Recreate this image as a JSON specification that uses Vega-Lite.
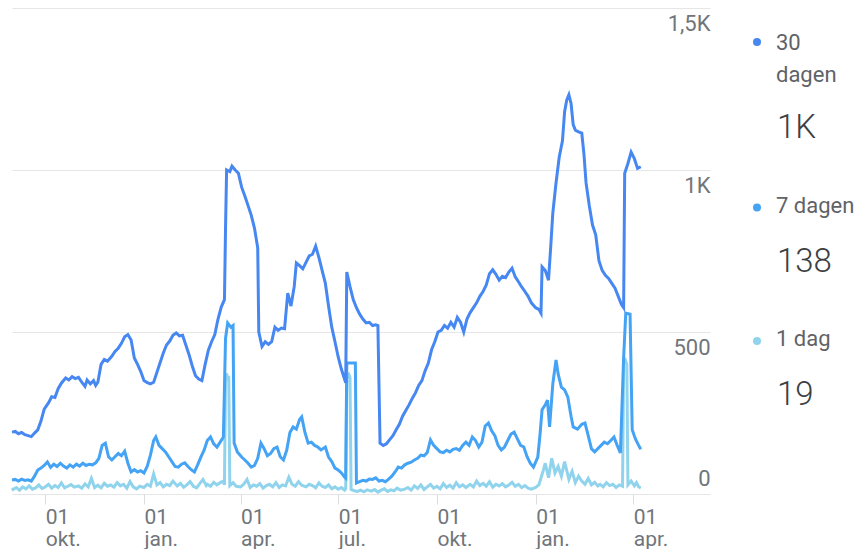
{
  "$schema": "https://vega.github.io/schema/vega-lite/v6.json",
  "padding": {"left": 6, "top": 8, "right": 0, "bottom": 0},
  "bounds": "flush",
  "spacing": 39,
  "config": {"view": {"stroke": null}, "font": "Roboto"},
  "datasets": {
    "d30": [
      {"d":"2022-08-31","v":191},{"d":"2022-09-03","v":193},{"d":"2022-09-06","v":186},{"d":"2022-09-09","v":190},{"d":"2022-09-12","v":183},{"d":"2022-09-15","v":180},{"d":"2022-09-18","v":177},{"d":"2022-09-21","v":188},{"d":"2022-09-24","v":198},{"d":"2022-09-27","v":225},{"d":"2022-09-30","v":262},
      {"d":"2022-10-04","v":281},{"d":"2022-10-07","v":300},{"d":"2022-10-10","v":298},{"d":"2022-10-13","v":325},{"d":"2022-10-16","v":342},{"d":"2022-10-20","v":358},{"d":"2022-10-23","v":352},{"d":"2022-10-26","v":362},{"d":"2022-10-29","v":356},
      {"d":"2022-11-01","v":360},{"d":"2022-11-04","v":345},{"d":"2022-11-07","v":332},{"d":"2022-11-09","v":352},{"d":"2022-11-12","v":340},{"d":"2022-11-15","v":350},{"d":"2022-11-17","v":335},{"d":"2022-11-19","v":345},{"d":"2022-11-22","v":400},{"d":"2022-11-25","v":415},{"d":"2022-11-28","v":410},
      {"d":"2022-12-02","v":425},{"d":"2022-12-05","v":440},{"d":"2022-12-08","v":450},{"d":"2022-12-11","v":465},{"d":"2022-12-14","v":485},{"d":"2022-12-17","v":492},{"d":"2022-12-20","v":475},{"d":"2022-12-23","v":420},{"d":"2022-12-26","v":400},{"d":"2022-12-29","v":378},
      {"d":"2023-01-01","v":350},{"d":"2023-01-04","v":344},{"d":"2023-01-07","v":340},{"d":"2023-01-10","v":345},{"d":"2023-01-13","v":375},{"d":"2023-01-16","v":405},{"d":"2023-01-19","v":435},{"d":"2023-01-22","v":460},{"d":"2023-01-25","v":472},{"d":"2023-01-28","v":490},{"d":"2023-01-31","v":497},
      {"d":"2023-02-03","v":488},{"d":"2023-02-06","v":490},{"d":"2023-02-09","v":460},{"d":"2023-02-12","v":430},{"d":"2023-02-15","v":395},{"d":"2023-02-18","v":365},{"d":"2023-02-21","v":355},{"d":"2023-02-24","v":350},{"d":"2023-02-27","v":400},
      {"d":"2023-03-02","v":444},{"d":"2023-03-05","v":470},{"d":"2023-03-08","v":492},{"d":"2023-03-11","v":540},{"d":"2023-03-14","v":577},{"d":"2023-03-17","v":600},{"d":"2023-03-18","v":820},{"d":"2023-03-19","v":1000},{"d":"2023-03-22","v":995},{"d":"2023-03-24","v":1012},{"d":"2023-03-27","v":1000},{"d":"2023-03-30","v":990},
      {"d":"2023-04-02","v":947},{"d":"2023-04-05","v":920},{"d":"2023-04-08","v":890},{"d":"2023-04-11","v":860},{"d":"2023-04-14","v":820},{"d":"2023-04-17","v":760},{"d":"2023-04-18","v":500},{"d":"2023-04-21","v":455},{"d":"2023-04-24","v":470},{"d":"2023-04-27","v":462},{"d":"2023-04-30","v":470},
      {"d":"2023-05-03","v":515},{"d":"2023-05-06","v":505},{"d":"2023-05-09","v":512},{"d":"2023-05-12","v":510},{"d":"2023-05-15","v":620},{"d":"2023-05-18","v":580},{"d":"2023-05-21","v":640},{"d":"2023-05-23","v":713},{"d":"2023-05-26","v":705},{"d":"2023-05-29","v":695},
      {"d":"2023-06-01","v":715},{"d":"2023-06-04","v":735},{"d":"2023-06-07","v":740},{"d":"2023-06-10","v":765},{"d":"2023-06-13","v":730},{"d":"2023-06-16","v":690},{"d":"2023-06-19","v":651},{"d":"2023-06-22","v":580},{"d":"2023-06-25","v":515},{"d":"2023-06-28","v":470},
      {"d":"2023-07-01","v":423},{"d":"2023-07-04","v":385},{"d":"2023-07-08","v":343},{"d":"2023-07-09","v":685},{"d":"2023-07-12","v":640},{"d":"2023-07-15","v":600},{"d":"2023-07-18","v":575},{"d":"2023-07-21","v":555},{"d":"2023-07-24","v":540},{"d":"2023-07-27","v":528},{"d":"2023-07-30","v":530},
      {"d":"2023-08-02","v":520},{"d":"2023-08-05","v":522},{"d":"2023-08-07","v":520},{"d":"2023-08-09","v":157},{"d":"2023-08-12","v":150},{"d":"2023-08-15","v":155},{"d":"2023-08-18","v":168},{"d":"2023-08-21","v":180},{"d":"2023-08-24","v":198},{"d":"2023-08-27","v":215},{"d":"2023-08-30","v":240},
      {"d":"2023-09-02","v":258},{"d":"2023-09-05","v":275},{"d":"2023-09-08","v":295},{"d":"2023-09-11","v":312},{"d":"2023-09-14","v":335},{"d":"2023-09-17","v":350},{"d":"2023-09-20","v":380},{"d":"2023-09-23","v":404},{"d":"2023-09-26","v":445},{"d":"2023-09-29","v":470},
      {"d":"2023-10-02","v":500},{"d":"2023-10-05","v":505},{"d":"2023-10-08","v":520},{"d":"2023-10-11","v":512},{"d":"2023-10-14","v":530},{"d":"2023-10-17","v":515},{"d":"2023-10-20","v":545},{"d":"2023-10-23","v":530},{"d":"2023-10-26","v":500},{"d":"2023-10-29","v":540},
      {"d":"2023-11-01","v":560},{"d":"2023-11-04","v":575},{"d":"2023-11-07","v":590},{"d":"2023-11-10","v":610},{"d":"2023-11-13","v":625},{"d":"2023-11-16","v":645},{"d":"2023-11-19","v":680},{"d":"2023-11-22","v":692},{"d":"2023-11-25","v":678},{"d":"2023-11-28","v":660},
      {"d":"2023-12-01","v":672},{"d":"2023-12-04","v":668},{"d":"2023-12-07","v":685},{"d":"2023-12-10","v":697},{"d":"2023-12-13","v":670},{"d":"2023-12-16","v":655},{"d":"2023-12-19","v":639},{"d":"2023-12-22","v":625},{"d":"2023-12-25","v":610},{"d":"2023-12-28","v":590},
      {"d":"2024-01-01","v":575},{"d":"2024-01-04","v":570},{"d":"2024-01-06","v":558},{"d":"2024-01-07","v":701},{"d":"2024-01-10","v":690},{"d":"2024-01-13","v":660},{"d":"2024-01-15","v":760},{"d":"2024-01-17","v":867},{"d":"2024-01-20","v":960},{"d":"2024-01-23","v":1040},{"d":"2024-01-26","v":1090},{"d":"2024-01-28","v":1180},{"d":"2024-01-30","v":1216},
      {"d":"2024-02-01","v":1232},{"d":"2024-02-03","v":1206},{"d":"2024-02-05","v":1140},{"d":"2024-02-07","v":1123},{"d":"2024-02-10","v":1118},{"d":"2024-02-13","v":1114},{"d":"2024-02-15","v":1050},{"d":"2024-02-17","v":960},{"d":"2024-02-20","v":890},{"d":"2024-02-23","v":830},{"d":"2024-02-26","v":800},{"d":"2024-02-29","v":720},
      {"d":"2024-03-03","v":690},{"d":"2024-03-06","v":675},{"d":"2024-03-09","v":665},{"d":"2024-03-12","v":650},{"d":"2024-03-15","v":635},{"d":"2024-03-18","v":610},{"d":"2024-03-21","v":585},{"d":"2024-03-23","v":575},{"d":"2024-03-24","v":990},{"d":"2024-03-27","v":1020},{"d":"2024-03-30","v":1055},
      {"d":"2024-04-02","v":1035},{"d":"2024-04-05","v":1005},{"d":"2024-04-08","v":1010}
    ],
    "d7": [
      {"d":"2022-08-31","v":43},{"d":"2022-09-03","v":45},{"d":"2022-09-06","v":40},{"d":"2022-09-09","v":46},{"d":"2022-09-12","v":42},{"d":"2022-09-15","v":44},{"d":"2022-09-18","v":40},{"d":"2022-09-21","v":55},{"d":"2022-09-24","v":74},{"d":"2022-09-27","v":80},{"d":"2022-09-30","v":88},
      {"d":"2022-10-03","v":99},{"d":"2022-10-06","v":82},{"d":"2022-10-09","v":92},{"d":"2022-10-12","v":85},{"d":"2022-10-15","v":95},{"d":"2022-10-18","v":86},{"d":"2022-10-21","v":80},{"d":"2022-10-24","v":90},{"d":"2022-10-27","v":83},{"d":"2022-10-30","v":92},
      {"d":"2022-11-02","v":86},{"d":"2022-11-05","v":95},{"d":"2022-11-08","v":88},{"d":"2022-11-11","v":92},{"d":"2022-11-14","v":90},{"d":"2022-11-17","v":96},{"d":"2022-11-20","v":110},{"d":"2022-11-23","v":150},{"d":"2022-11-26","v":157},{"d":"2022-11-29","v":115},
      {"d":"2022-12-02","v":105},{"d":"2022-12-05","v":115},{"d":"2022-12-08","v":125},{"d":"2022-12-11","v":118},{"d":"2022-12-14","v":132},{"d":"2022-12-17","v":95},{"d":"2022-12-20","v":68},{"d":"2022-12-23","v":75},{"d":"2022-12-26","v":68},{"d":"2022-12-29","v":72},
      {"d":"2023-01-01","v":65},{"d":"2023-01-04","v":85},{"d":"2023-01-07","v":120},{"d":"2023-01-10","v":165},{"d":"2023-01-12","v":176},{"d":"2023-01-15","v":150},{"d":"2023-01-18","v":140},{"d":"2023-01-21","v":130},{"d":"2023-01-24","v":115},{"d":"2023-01-27","v":100},{"d":"2023-01-30","v":85},
      {"d":"2023-02-02","v":83},{"d":"2023-02-05","v":92},{"d":"2023-02-08","v":96},{"d":"2023-02-11","v":85},{"d":"2023-02-14","v":75},{"d":"2023-02-17","v":68},{"d":"2023-02-20","v":90},{"d":"2023-02-23","v":114},{"d":"2023-02-26","v":135},
      {"d":"2023-03-01","v":165},{"d":"2023-03-04","v":176},{"d":"2023-03-07","v":155},{"d":"2023-03-10","v":145},{"d":"2023-03-13","v":160},{"d":"2023-03-16","v":176},{"d":"2023-03-18","v":480},{"d":"2023-03-20","v":528},{"d":"2023-03-23","v":515},{"d":"2023-03-25","v":520},{"d":"2023-03-26","v":157},{"d":"2023-03-29","v":130},
      {"d":"2023-04-02","v":114},{"d":"2023-04-05","v":105},{"d":"2023-04-08","v":95},{"d":"2023-04-11","v":83},{"d":"2023-04-14","v":88},{"d":"2023-04-17","v":110},{"d":"2023-04-20","v":157},{"d":"2023-04-23","v":140},{"d":"2023-04-26","v":118},{"d":"2023-04-29","v":125},
      {"d":"2023-05-02","v":140},{"d":"2023-05-05","v":145},{"d":"2023-05-08","v":115},{"d":"2023-05-11","v":105},{"d":"2023-05-14","v":135},{"d":"2023-05-17","v":190},{"d":"2023-05-20","v":207},{"d":"2023-05-23","v":200},{"d":"2023-05-26","v":230},{"d":"2023-05-28","v":238},{"d":"2023-05-31","v":190},
      {"d":"2023-06-03","v":157},{"d":"2023-06-06","v":160},{"d":"2023-06-09","v":150},{"d":"2023-06-12","v":145},{"d":"2023-06-15","v":136},{"d":"2023-06-19","v":145},{"d":"2023-06-22","v":114},{"d":"2023-06-25","v":100},{"d":"2023-06-28","v":80},
      {"d":"2023-07-01","v":74},{"d":"2023-07-04","v":65},{"d":"2023-07-07","v":52},{"d":"2023-07-08","v":49},{"d":"2023-07-09","v":404},{"d":"2023-07-17","v":404},{"d":"2023-07-18","v":34},{"d":"2023-07-21","v":38},{"d":"2023-07-24","v":42},{"d":"2023-07-27","v":40},{"d":"2023-07-30","v":46},
      {"d":"2023-08-02","v":45},{"d":"2023-08-05","v":50},{"d":"2023-08-08","v":40},{"d":"2023-08-11","v":42},{"d":"2023-08-14","v":38},{"d":"2023-08-17","v":46},{"d":"2023-08-20","v":55},{"d":"2023-08-23","v":68},{"d":"2023-08-26","v":83},{"d":"2023-08-29","v":80},
      {"d":"2023-09-01","v":90},{"d":"2023-09-04","v":95},{"d":"2023-09-07","v":98},{"d":"2023-09-10","v":105},{"d":"2023-09-13","v":110},{"d":"2023-09-16","v":120},{"d":"2023-09-19","v":118},{"d":"2023-09-22","v":128},{"d":"2023-09-25","v":167},{"d":"2023-09-28","v":150},
      {"d":"2023-10-01","v":140},{"d":"2023-10-04","v":130},{"d":"2023-10-07","v":128},{"d":"2023-10-10","v":135},{"d":"2023-10-13","v":130},{"d":"2023-10-16","v":138},{"d":"2023-10-19","v":140},{"d":"2023-10-22","v":135},{"d":"2023-10-25","v":150},{"d":"2023-10-28","v":160},{"d":"2023-10-31","v":150},
      {"d":"2023-11-03","v":176},{"d":"2023-11-06","v":165},{"d":"2023-11-09","v":145},{"d":"2023-11-12","v":160},{"d":"2023-11-15","v":210},{"d":"2023-11-18","v":219},{"d":"2023-11-21","v":195},{"d":"2023-11-24","v":180},{"d":"2023-11-27","v":150},{"d":"2023-11-30","v":136},
      {"d":"2023-12-03","v":145},{"d":"2023-12-06","v":165},{"d":"2023-12-09","v":185},{"d":"2023-12-12","v":191},{"d":"2023-12-15","v":170},{"d":"2023-12-18","v":150},{"d":"2023-12-21","v":145},{"d":"2023-12-24","v":115},{"d":"2023-12-27","v":95},{"d":"2023-12-30","v":83},
      {"d":"2024-01-03","v":114},{"d":"2024-01-05","v":180},{"d":"2024-01-07","v":260},{"d":"2024-01-10","v":275},{"d":"2024-01-12","v":290},{"d":"2024-01-14","v":207},{"d":"2024-01-17","v":340},{"d":"2024-01-20","v":414},{"d":"2024-01-22","v":370},{"d":"2024-01-25","v":330},{"d":"2024-01-28","v":321},{"d":"2024-01-31","v":299},
      {"d":"2024-02-03","v":240},{"d":"2024-02-05","v":207},{"d":"2024-02-09","v":200},{"d":"2024-02-13","v":215},{"d":"2024-02-16","v":219},{"d":"2024-02-19","v":180},{"d":"2024-02-22","v":140},{"d":"2024-02-25","v":130},{"d":"2024-02-28","v":140},
      {"d":"2024-03-02","v":150},{"d":"2024-03-05","v":160},{"d":"2024-03-08","v":155},{"d":"2024-03-11","v":165},{"d":"2024-03-14","v":176},{"d":"2024-03-17","v":150},{"d":"2024-03-20","v":127},{"d":"2024-03-23","v":420},{"d":"2024-03-25","v":558},{"d":"2024-03-29","v":555},{"d":"2024-03-31","v":198},
      {"d":"2024-04-03","v":170},{"d":"2024-04-06","v":150},{"d":"2024-04-08","v":138}
    ],
    "d1": [
      {"d":"2022-08-31","v":18},
      {"d":"2022-09-01","v":14},{"d":"2022-09-04","v":20},{"d":"2022-09-07","v":12},{"d":"2022-09-10","v":22},{"d":"2022-09-13","v":16},{"d":"2022-09-16","v":25},{"d":"2022-09-19","v":15},{"d":"2022-09-22","v":19},{"d":"2022-09-25","v":28},{"d":"2022-09-28","v":17},
      {"d":"2022-10-01","v":22},{"d":"2022-10-04","v":30},{"d":"2022-10-07","v":18},{"d":"2022-10-10","v":26},{"d":"2022-10-13","v":20},{"d":"2022-10-16","v":34},{"d":"2022-10-19","v":19},{"d":"2022-10-22","v":24},{"d":"2022-10-25","v":29},{"d":"2022-10-28","v":21},
      {"d":"2022-11-01","v":25},{"d":"2022-11-04","v":18},{"d":"2022-11-07","v":31},{"d":"2022-11-10","v":22},{"d":"2022-11-13","v":48},{"d":"2022-11-16","v":20},{"d":"2022-11-19","v":27},{"d":"2022-11-22","v":19},{"d":"2022-11-25","v":33},{"d":"2022-11-28","v":24},
      {"d":"2022-12-01","v":28},{"d":"2022-12-04","v":21},{"d":"2022-12-07","v":35},{"d":"2022-12-10","v":25},{"d":"2022-12-13","v":30},{"d":"2022-12-16","v":18},{"d":"2022-12-19","v":38},{"d":"2022-12-22","v":22},{"d":"2022-12-25","v":16},{"d":"2022-12-28","v":24},
      {"d":"2023-01-01","v":20},{"d":"2023-01-04","v":30},{"d":"2023-01-07","v":24},{"d":"2023-01-10","v":62},{"d":"2023-01-13","v":28},{"d":"2023-01-16","v":35},{"d":"2023-01-19","v":22},{"d":"2023-01-22","v":30},{"d":"2023-01-25","v":26},{"d":"2023-01-28","v":40},
      {"d":"2023-02-01","v":25},{"d":"2023-02-04","v":33},{"d":"2023-02-07","v":21},{"d":"2023-02-10","v":28},{"d":"2023-02-13","v":38},{"d":"2023-02-16","v":24},{"d":"2023-02-19","v":19},{"d":"2023-02-22","v":32},{"d":"2023-02-25","v":45},{"d":"2023-02-28","v":26},
      {"d":"2023-03-01","v":30},{"d":"2023-03-04","v":24},{"d":"2023-03-07","v":36},{"d":"2023-03-10","v":28},{"d":"2023-03-13","v":35},{"d":"2023-03-16","v":40},{"d":"2023-03-17","v":28},{"d":"2023-03-18","v":360},{"d":"2023-03-19","v":372},{"d":"2023-03-20","v":350},{"d":"2023-03-21","v":365},{"d":"2023-03-22","v":26},{"d":"2023-03-25","v":35},{"d":"2023-03-28","v":24},
      {"d":"2023-04-01","v":22},{"d":"2023-04-04","v":30},{"d":"2023-04-07","v":45},{"d":"2023-04-10","v":20},{"d":"2023-04-13","v":28},{"d":"2023-04-16","v":24},{"d":"2023-04-19","v":32},{"d":"2023-04-22","v":18},{"d":"2023-04-25","v":26},{"d":"2023-04-28","v":30},
      {"d":"2023-05-01","v":22},{"d":"2023-05-04","v":35},{"d":"2023-05-07","v":20},{"d":"2023-05-10","v":28},{"d":"2023-05-13","v":25},{"d":"2023-05-16","v":52},{"d":"2023-05-19","v":30},{"d":"2023-05-22","v":24},{"d":"2023-05-25","v":38},{"d":"2023-05-28","v":27},
      {"d":"2023-06-01","v":22},{"d":"2023-06-04","v":30},{"d":"2023-06-07","v":26},{"d":"2023-06-10","v":19},{"d":"2023-06-13","v":34},{"d":"2023-06-16","v":24},{"d":"2023-06-19","v":20},{"d":"2023-06-22","v":28},{"d":"2023-06-25","v":16},{"d":"2023-06-28","v":22},
      {"d":"2023-07-01","v":15},{"d":"2023-07-04","v":20},{"d":"2023-07-07","v":12},{"d":"2023-07-08","v":16},{"d":"2023-07-09","v":370},{"d":"2023-07-10","v":362},{"d":"2023-07-11","v":368},{"d":"2023-07-12","v":360},{"d":"2023-07-13","v":14},{"d":"2023-07-16","v":10},{"d":"2023-07-19","v":8},{"d":"2023-07-22","v":12},{"d":"2023-07-25","v":7},{"d":"2023-07-28","v":13},
      {"d":"2023-08-01","v":9},{"d":"2023-08-04","v":14},{"d":"2023-08-07","v":6},{"d":"2023-08-10","v":12},{"d":"2023-08-13","v":16},{"d":"2023-08-16","v":8},{"d":"2023-08-19","v":13},{"d":"2023-08-22","v":10},{"d":"2023-08-25","v":18},{"d":"2023-08-28","v":12},
      {"d":"2023-09-01","v":15},{"d":"2023-09-04","v":20},{"d":"2023-09-07","v":12},{"d":"2023-09-10","v":25},{"d":"2023-09-13","v":17},{"d":"2023-09-16","v":28},{"d":"2023-09-19","v":14},{"d":"2023-09-22","v":22},{"d":"2023-09-25","v":30},{"d":"2023-09-28","v":18},
      {"d":"2023-10-01","v":24},{"d":"2023-10-04","v":16},{"d":"2023-10-07","v":32},{"d":"2023-10-10","v":20},{"d":"2023-10-13","v":27},{"d":"2023-10-16","v":18},{"d":"2023-10-19","v":35},{"d":"2023-10-22","v":22},{"d":"2023-10-25","v":28},{"d":"2023-10-28","v":20},
      {"d":"2023-11-01","v":30},{"d":"2023-11-04","v":22},{"d":"2023-11-07","v":40},{"d":"2023-11-10","v":26},{"d":"2023-11-13","v":33},{"d":"2023-11-16","v":24},{"d":"2023-11-19","v":38},{"d":"2023-11-22","v":21},{"d":"2023-11-25","v":30},{"d":"2023-11-28","v":25},
      {"d":"2023-12-01","v":32},{"d":"2023-12-04","v":22},{"d":"2023-12-07","v":28},{"d":"2023-12-10","v":36},{"d":"2023-12-13","v":24},{"d":"2023-12-16","v":30},{"d":"2023-12-19","v":20},{"d":"2023-12-22","v":26},{"d":"2023-12-25","v":18},{"d":"2023-12-28","v":15},
      {"d":"2024-01-01","v":20},{"d":"2024-01-04","v":28},{"d":"2024-01-07","v":60},{"d":"2024-01-10","v":95},{"d":"2024-01-13","v":50},{"d":"2024-01-16","v":110},{"d":"2024-01-19","v":65},{"d":"2024-01-22","v":85},{"d":"2024-01-25","v":55},{"d":"2024-01-28","v":100},
      {"d":"2024-02-01","v":45},{"d":"2024-02-04","v":70},{"d":"2024-02-07","v":35},{"d":"2024-02-10","v":55},{"d":"2024-02-13","v":40},{"d":"2024-02-16","v":30},{"d":"2024-02-19","v":48},{"d":"2024-02-22","v":28},{"d":"2024-02-25","v":36},{"d":"2024-02-28","v":25},
      {"d":"2024-03-01","v":30},{"d":"2024-03-04","v":22},{"d":"2024-03-07","v":35},{"d":"2024-03-10","v":26},{"d":"2024-03-13","v":30},{"d":"2024-03-16","v":20},{"d":"2024-03-19","v":28},{"d":"2024-03-22","v":24},{"d":"2024-03-23","v":400},{"d":"2024-03-24","v":420},{"d":"2024-03-25","v":410},{"d":"2024-03-26","v":400},{"d":"2024-03-27","v":28},{"d":"2024-03-30","v":40},
      {"d":"2024-04-02","v":25},{"d":"2024-04-04","v":35},{"d":"2024-04-06","v":22},{"d":"2024-04-08","v":19}
    ],
    "legenda": [
      {"naam":"30 dagen","totaal":"1K"},
      {"naam":"7 dagen","totaal":"138"},
      {"naam":"1 dag","totaal":"19"}
    ]
  },
  "hconcat": [
    {
      "width": 698,
      "height": 486,
      "encoding": {
        "x": {
          "field": "d", "type": "temporal",
          "scale": {"domain": [{"year":2022,"month":8,"date":31}, {"year":2024,"month":6,"date":11,"hours":12}], "nice": false},
          "axis": {
            "title": null,
            "values": [{"year":2022,"month":10,"date":1},{"year":2023,"month":1,"date":1},{"year":2023,"month":4,"date":1},{"year":2023,"month":7,"date":1},{"year":2023,"month":10,"date":1},{"year":2024,"month":1,"date":1},{"year":2024,"month":4,"date":1}],
            "labelExpr": "['01', ['jan.','feb.','mrt.','apr.','mei','jun.','jul.','aug.','sep.','okt.','nov.','dec.'][month(datum.value)]]",
            "grid": false, "domain": false,
            "ticks": true, "tickSize": 10, "tickColor": "#dadce0",
            "labelAlign": "left", "labelBaseline": "top",
            "labelFont": "Roboto", "labelFontSize": 21, "labelLineHeight": 22,
            "labelPadding": 2, "labelColor": "#70757a",
            "labelOverlap": false, "labelFlush": false, "labelBound": false
          }
        },
        "y": {
          "field": "v", "type": "quantitative",
          "scale": {"domain": [0, 1500], "nice": false},
          "axis": {
            "title": null, "orient": "right",
            "values": [0, 500, 1000, 1500],
            "labelExpr": "datum.value == 1500 ? '1,5K' : datum.value == 1000 ? '1K' : datum.label",
            "grid": true, "gridColor": "#e6e6e6", "gridWidth": 1,
            "domain": false, "ticks": false,
            "labelAlign": "right", "labelPadding": 0, "labelBaseline": "alphabetic",
            "labelOffset": {"condition": {"test": "datum.value === 0", "value": -9}, "value": 22},
            "labelFont": "Roboto", "labelFontSize": 22, "labelColor": "#70757a"
          }
        }
      },
      "layer": [
        {"data": {"name": "d1"}, "mark": {"type": "line", "color": "#90d3ec", "strokeWidth": 3}},
        {"data": {"name": "d7"}, "mark": {"type": "line", "color": "#44a3f4", "strokeWidth": 3}},
        {"data": {"name": "d30"}, "mark": {"type": "line", "color": "#4687f2", "strokeWidth": 3}}
      ]
    },
    {
      "width": 115,
      "height": 486,
      "data": {"name": "legenda"},
      "encoding": {
        "y": {"field": "naam", "type": "nominal", "scale": {"type": "point", "padding": 0, "domain": ["30 dagen", "7 dagen", "1 dag"], "range": [130, 397]}, "axis": null}
      },
      "layer": [
        {
          "transform": [{"filter": "datum.naam === '30 dagen'"}],
          "mark": {"type": "circle", "size": 64, "opacity": 1, "yOffset": -96},
          "encoding": {"x": {"value": 8}, "color": {"field": "naam", "type": "nominal", "scale": {"domain": ["30 dagen", "7 dagen", "1 dag"], "range": ["#4687f2", "#44a3f4", "#90d3ec"]}, "legend": null}}
        },
        {
          "transform": [{"filter": "datum.naam !== '30 dagen'"}],
          "mark": {"type": "circle", "size": 64, "opacity": 1, "yOffset": -64},
          "encoding": {"x": {"value": 8}, "color": {"field": "naam", "type": "nominal", "scale": {"domain": ["30 dagen", "7 dagen", "1 dag"], "range": ["#4687f2", "#44a3f4", "#90d3ec"]}, "legend": null}}
        },
        {
          "transform": [{"filter": "datum.naam === '30 dagen'"}],
          "mark": {"type": "text", "align": "left", "baseline": "alphabetic", "dy": -88, "lineBreak": " ", "lineHeight": 32, "font": "Roboto", "fontSize": 22, "color": "#5f6368"},
          "encoding": {"x": {"value": 27}, "text": {"field": "naam"}}
        },
        {
          "transform": [{"filter": "datum.naam !== '30 dagen'"}],
          "mark": {"type": "text", "align": "left", "baseline": "alphabetic", "dy": -59, "font": "Roboto", "fontSize": 22, "color": "#5f6368"},
          "encoding": {"x": {"value": 27}, "text": {"field": "naam"}}
        },
        {
          "mark": {"type": "text", "align": "left", "baseline": "alphabetic", "font": "Roboto", "fontSize": 33, "fontWeight": 300, "color": "#3c4043"},
          "encoding": {"x": {"value": 28}, "text": {"field": "totaal"}}
        }
      ]
    }
  ]
}
